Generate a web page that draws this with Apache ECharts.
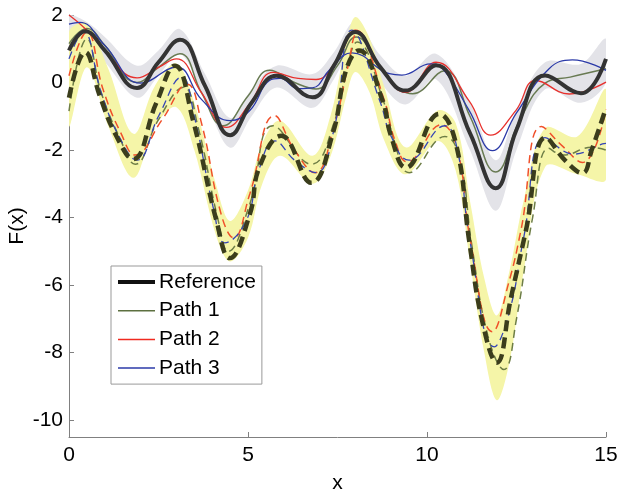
<!DOCTYPE html>
<html>
<head>
<meta charset="utf-8">
<script src="https://cdn.jsdelivr.net/npm/echarts@6/dist/echarts.min.js"></script>
<style>
  html, body { margin: 0; padding: 0; background: #fff; }
  #chart { width: 624px; height: 496px; }
</style>
</head>
<body>
<div id="chart"></div>
<script>
// ---- data ----
const yTicks = [-10, -8, -6, -4, -2, 0, 2];

// grey band round the reference (upper curves)
const topBandX = [0, 0.45, 1.0, 1.9, 2.5, 3.1, 3.8, 4.5, 5.1, 5.8, 6.8, 7.4, 8.0, 8.7, 9.4, 10.25, 11.2, 11.92, 12.5, 13.3, 14.3, 15];
const topBandHi = [1.95, 1.82, 1.35, 0.5, 0.95, 1.58, 0.25, -1.05, -0.2, 0.5, 0.25, 0.9, 1.8, 0.8, 0.2, 0.85, -0.6, -2.3, -0.8, 0.6, 0.55, 1.3];
const topBandLo = [0.3, 1.15, 0.6, -0.45, 0.2, 0.85, -0.5, -1.93, -1.0, -0.15, -0.75, 0.1, 1.1, 0.0, -0.65, 0.1, -2.0, -3.8, -2.0, -0.2, -0.6, 0.0];

// yellow band (lower curves)
const botBandX = [0, 0.5, 1.1, 1.8, 2.4, 3.0, 3.5, 4.1, 4.5, 5.0, 5.4, 5.9, 6.8, 7.3, 7.75, 8.0, 8.4, 8.8, 9.4, 10.3, 10.8, 11.2, 11.6, 11.95, 12.3, 12.7, 13.3, 14.2, 15];
const botBandHi = [1.5, 1.75, 0.4, -1.52, -0.1, 0.56, -0.6, -3.0, -4.1, -3.2, -1.8, -1.13, -2.17, -1.0, 1.2, 1.94, 1.3, -0.1, -1.92, -0.83, -1.2, -3.5, -5.8, -6.9, -5.6, -3.5, -1.35, -1.6, -0.2];
const botBandLo = [-1.3, 0.45, -1.3, -2.82, -1.3, -0.73, -2.0, -4.5, -5.3, -4.6, -3.0, -2.17, -3.0, -2.2, -0.4, 0.31, -0.3, -1.7, -2.72, -1.73, -2.6, -5.3, -8.0, -9.41, -8.3, -5.6, -2.5, -2.72, -2.87];

// solid curves
const refTop = [[0,0.95],[0.45,1.52],[1.0,0.95],[1.9,-0.16],[2.5,0.6],[3.1,1.27],[3.8,-0.1],[4.5,-1.56],[5.1,-0.6],[5.8,0.2],[6.8,-0.44],[7.4,0.5],[8.0,1.5],[8.7,0.45],[9.4,-0.24],[10.25,0.51],[11.2,-1.5],[11.92,-3.13],[12.5,-1.4],[13.3,0.21],[14.3,-0.32],[15,0.7]];
const path1Top = [[0,1.15],[0.5,1.6],[1.0,1.1],[1.9,0.0],[2.5,0.45],[3.1,0.85],[3.7,-0.3],[4.3,-1.28],[5.0,-0.4],[5.6,0.36],[6.3,0.0],[6.9,-0.19],[7.5,0.5],[8.02,1.35],[8.8,0.3],[9.6,-0.33],[10.5,0.35],[11.2,-1.0],[11.92,-2.65],[12.6,-1.1],[13.3,-0.02],[14.0,0.16],[15,0.41]];
const path2Top = [[0,2.0],[0.5,1.55],[1.0,0.95],[1.9,0.14],[2.5,0.45],[3.0,0.7],[3.7,-0.3],[4.4,-1.33],[5.05,-0.63],[5.7,0.3],[6.4,0.12],[6.9,0.09],[7.5,0.7],[8.0,1.55],[8.7,0.45],[9.4,-0.29],[10.25,0.6],[11.18,-0.55],[11.78,-1.56],[12.48,-0.83],[13.04,0.06],[13.97,-0.34],[15,0.01]];
const path3Top = [[0,1.73],[0.3,1.78],[1.0,1.1],[2.0,-0.02],[3.0,0.46],[3.7,-0.5],[4.5,-1.13],[5.05,-0.83],[5.6,0.06],[5.9,0.12],[6.4,-0.18],[6.8,-0.16],[7.3,0.4],[7.9,0.88],[8.95,0.26],[9.3,0.22],[10.1,0.55],[10.4,0.45],[11.18,-0.83],[11.83,-2.02],[12.5,-0.9],[13.41,0.41],[14.06,0.67],[15,0.36]];

// dashed curves
const refBot = [[0,-0.45],[0.45,0.9],[0.86,-0.4],[1.33,-1.6],[1.79,-2.27],[2.44,-0.6],[2.96,0.5],[3.46,-1.1],[4.12,-4.1],[4.49,-5.2],[5.05,-3.9],[5.32,-2.5],[5.93,-1.58],[6.77,-2.97],[7.37,-1.5],[7.75,0.4],[8.1,0.95],[8.76,-0.54],[9.0,-1.6],[9.41,-2.52],[10.34,-0.93],[10.81,-1.82],[11.18,-4.7],[11.55,-7.1],[11.95,-8.3],[12.34,-6.4],[12.76,-4.4],[13.32,-1.63],[13.87,-2.32],[14.34,-2.68],[14.6,-2.0],[15,-0.75]];
const path1Bot = [[0,-0.85],[0.5,1.3],[0.9,-0.3],[1.4,-1.6],[1.85,-2.42],[2.5,-1.1],[3.2,-0.14],[3.6,-1.3],[4.15,-4.0],[4.45,-5.0],[5.05,-3.6],[5.7,-1.28],[6.77,-2.42],[7.4,-1.2],[7.8,0.6],[8.05,1.2],[8.8,-0.6],[9.1,-1.8],[9.5,-2.67],[10.5,-1.6],[10.9,-2.2],[11.25,-4.8],[11.7,-7.5],[12.15,-8.5],[12.5,-7.0],[12.95,-4.0],[13.4,-1.95],[13.8,-2.15],[14.6,-1.92],[15,-2.0]];
const path2Bot = [[0,0.2],[0.5,1.5],[0.95,-0.2],[1.45,-1.5],[1.85,-2.15],[2.6,-1.1],[3.3,-0.05],[3.7,-1.2],[4.25,-3.9],[4.6,-4.6],[5.05,-3.3],[5.74,-0.98],[6.3,-2.0],[6.87,-2.67],[7.4,-1.3],[7.8,0.5],[8.05,1.45],[8.8,-0.5],[9.1,-1.7],[9.45,-2.35],[10.4,-1.25],[10.85,-2.0],[11.2,-4.6],[11.83,-7.38],[12.29,-5.9],[12.62,-4.4],[13.2,-1.3],[13.8,-1.9],[14.34,-2.37],[15,-0.8]];
const path3Bot = [[0,0.7],[0.4,1.5],[0.9,-0.3],[1.4,-1.6],[1.9,-2.3],[2.5,-1.0],[3.15,0.16],[3.5,-1.0],[4.05,-3.8],[4.35,-4.75],[4.95,-4.1],[5.3,-2.6],[5.75,-1.73],[6.3,-2.3],[6.9,-2.67],[7.4,-1.4],[7.9,1.55],[8.7,-0.6],[9.0,-1.6],[9.5,-2.3],[10.5,-1.28],[10.85,-2.0],[11.2,-4.7],[11.88,-7.83],[12.3,-6.8],[12.7,-4.6],[13.3,-1.63],[14.1,-2.12],[14.9,-1.82],[15,-1.8]];

const FONT = '"Liberation Sans", Arial, Helvetica, sans-serif';
const FS = 21;

// band drawn as one filled polygon between the upper and lower edge
function band(xs, hi, lo, color) {
  return {
    type: 'custom',
    coordinateSystem: 'cartesian2d',
    data: [[xs[0], hi[0]]],
    clip: true,
    silent: true,
    z: 1,
    renderItem: function (params, api) {
      const pts = [];
      for (let i = 0; i < xs.length; i++) pts.push(api.coord([xs[i], hi[i]]));
      for (let i = xs.length - 1; i >= 0; i--) pts.push(api.coord([xs[i], lo[i]]));
      return {
        type: 'polygon',
        shape: { points: pts, smooth: 0.35 },
        style: { fill: color }
      };
    }
  };
}

function line(name, data, color, width, type, z) {
  return {
    name: name,
    type: 'line',
    data: data,
    symbol: 'none',
    smooth: 0.45,
    z: z || 3,
    lineStyle: { color: color, width: width, type: type || 'solid', cap: 'butt' },
    itemStyle: { color: color }
  };
}

// flat bar icons so the legend shows plain line samples
const thickIcon = 'path://M0,0 L37,0 L37,4 L0,4 Z';
const thinIcon = 'path://M0,0 L37,0 L37,1.5 L0,1.5 Z';

const chart = echarts.init(document.getElementById('chart'));
chart.setOption({
  animation: false,
  backgroundColor: '#fff',
  grid: { left: 69, right: 18, top: 15, bottom: 59, containLabel: false, outerBoundsMode: 'none' },
  legend: {
    orient: 'vertical',
    left: 111,
    top: 266,
    padding: [5, 6, 5, 7],
    itemWidth: 37,
    itemHeight: 16,
    itemGap: 6.7,
    backgroundColor: '#fff',
    borderColor: '#999',
    borderWidth: 1,
    borderRadius: 0,
    textStyle: { fontSize: FS, color: '#000', fontFamily: FONT, lineHeight: 22, padding: [0, 0, 0, -1] },
    data: [
      { name: 'Reference', icon: thickIcon, itemStyle: { color: '#111111' } },
      { name: 'Path 1', icon: thinIcon, itemStyle: { color: '#5d7040' } },
      { name: 'Path 2', icon: thinIcon, itemStyle: { color: '#f02a20' } },
      { name: 'Path 3', icon: thinIcon, itemStyle: { color: '#2b3aa8' } }
    ]
  },
  xAxis: {
    type: 'value',
    min: 0,
    max: 15,
    interval: 5,
    name: 'x',
    nameLocation: 'middle',
    nameGap: 36,
    nameMoveOverlap: false,
    nameTextStyle: { fontSize: FS, color: '#000', fontFamily: FONT },
    axisLine: { show: true, onZero: false, lineStyle: { color: '#808080', width: 1 } },
    axisTick: { show: true, inside: true, length: 5, lineStyle: { color: '#808080' } },
    axisLabel: { fontSize: FS, color: '#000', fontFamily: FONT, margin: 8 },
    splitLine: { show: false }
  },
  yAxis: {
    type: 'value',
    min: -10.5,
    max: 2,
    name: 'F(x)',
    nameLocation: 'middle',
    nameRotate: 90,
    nameGap: 41,
    nameMoveOverlap: false,
    nameTextStyle: { fontSize: FS, color: '#000', fontFamily: FONT },
    axisLine: { show: true, onZero: false, lineStyle: { color: '#808080', width: 1 } },
    axisTick: { show: true, inside: true, length: 5, customValues: yTicks, lineStyle: { color: '#808080' } },
    axisLabel: { fontSize: FS, color: '#000', fontFamily: FONT, margin: 6, customValues: yTicks },
    splitLine: { show: false }
  },
  series: [
    band(topBandX, topBandHi, topBandLo, '#e3e3e8'),
    band(botBandX, botBandHi, botBandLo, '#f5f5a8'),
    line('Reference', refTop, '#333333', 4, 'solid', 4),
    line('Path 1', path1Top, '#687a52', 1.5),
    line('Path 2', path2Top, '#e8302c', 1.3),
    line('Path 3', path3Top, '#2b3aa8', 1.3),
    line('Reference (GP)', refBot, '#3b3d1c', 4.5, [11, 6], 4),
    line('Path 1 (GP)', path1Bot, '#6d7d45', 1.5, [8, 5]),
    line('Path 2 (GP)', path2Bot, '#f0502a', 1.5, [8, 5]),
    line('Path 3 (GP)', path3Bot, '#3545b5', 1.3, [8, 5])
  ]
});
</script>
</body>
</html>
